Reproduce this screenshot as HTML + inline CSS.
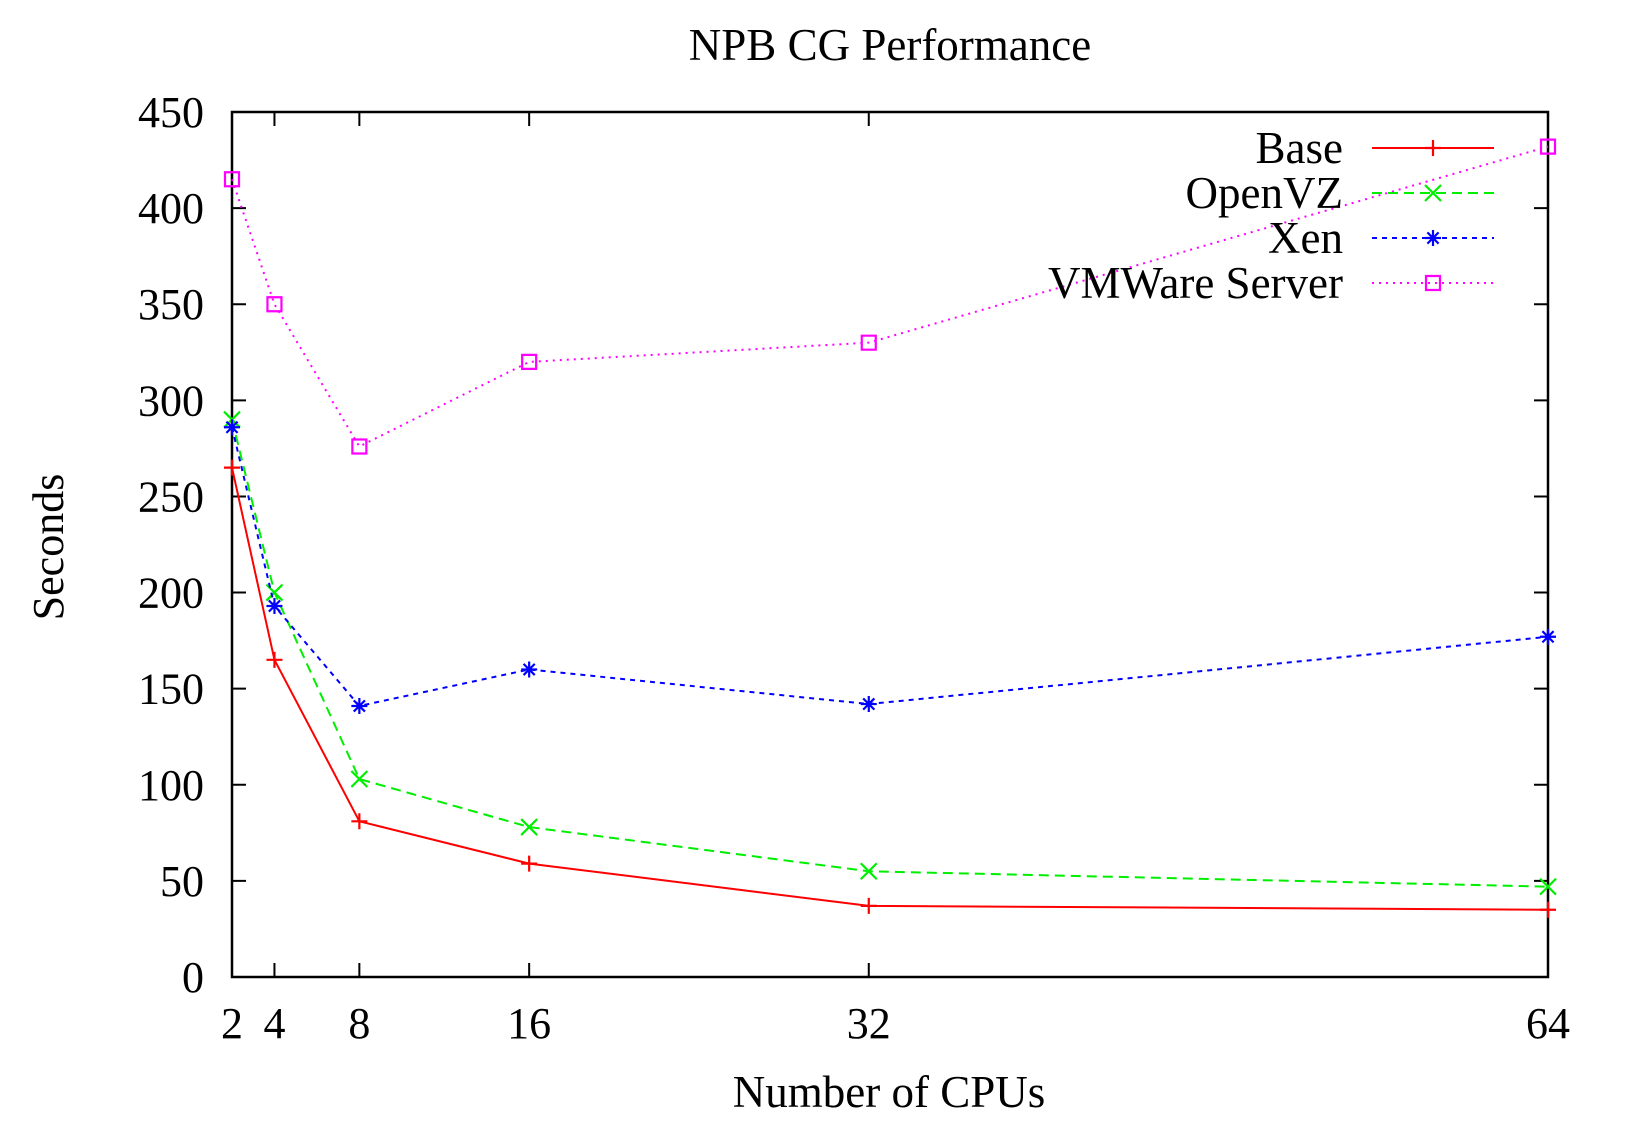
<!DOCTYPE html>
<html><head><meta charset="utf-8"><style>
html,body{margin:0;padding:0;background:#fff;width:1650px;height:1141px;overflow:hidden}
svg text{font-family:"Liberation Serif",serif;fill:#000}
</style></head><body>
<svg id="chart" width="1650" height="1141" viewBox="0 0 1650 1141" xmlns="http://www.w3.org/2000/svg">
<text x="890" y="60" font-size="45" text-anchor="middle">NPB CG Performance</text>
<text x="0" y="0" font-size="44" text-anchor="middle" transform="translate(63,547) rotate(-90)">Seconds</text>
<text x="889" y="1107" font-size="45" text-anchor="middle">Number of CPUs</text>
<g id="axes"></g>
<g id="series"></g>
<g id="legend"></g>
</svg>
<script>
const cpus = [2, 4, 8, 16, 32, 64];
const baseVals = [265, 165, 81, 59, 37, 35];
const openvzVals = [290, 200, 103, 78, 55, 47];
const xenVals = [286, 193, 141, 160, 142, 177];
const vmwareVals = [415, 350, 276, 320, 330, 432];
const yTicks = [0, 50, 100, 150, 200, 250, 300, 350, 400, 450];
const xTicks = [2, 4, 8, 16, 32, 64];
const seriesNames = ["Base", "OpenVZ", "Xen", "VMWare Server"];

const NS = "http://www.w3.org/2000/svg";
const L = 232, R = 1548, T = 112, B = 977;
const xS = v => L + (v - 2) * (R - L) / 62;
const yS = v => B - v * (B - T) / 450;
function mk(tag, attrs, parent) {
  const e = document.createElementNS(NS, tag);
  for (const k in attrs) e.setAttribute(k, attrs[k]);
  parent.appendChild(e);
  return e;
}
const axes = document.getElementById('axes');
const frame = mk('rect', {x: L, y: T, width: R - L, height: B - T, fill: 'none', stroke: '#000', 'stroke-width': 2.5}, axes);


yTicks.forEach(v => {
  const y = yS(v);
  const t = mk('path', {d: `M${L},${y}h14M${R},${y}h-14`, stroke: '#000', 'stroke-width': 2}, axes);
  
  
  const lb = mk('text', {x: 204, y: y + 15, 'font-size': 44, 'text-anchor': 'end'}, axes);
  lb.textContent = v;
  
  
});
xTicks.forEach(v => {
  const x = xS(v);
  const t = mk('path', {d: `M${x},${B}v-14M${x},${T}v14`, stroke: '#000', 'stroke-width': 2}, axes);
  
  
  const lb = mk('text', {x: x, y: 1038, 'font-size': 44, 'text-anchor': 'middle'}, axes);
  lb.textContent = v;
  
  
});

const styles = [
  {vals: baseVals, color: '#ff0000', dash: '', marker: 'plus'},
  {vals: openvzVals, color: '#00ee00', dash: '10,6', marker: 'cross'},
  {vals: xenVals, color: '#0000ff', dash: '5,5', marker: 'star'},
  {vals: vmwareVals, color: '#ff00ff', dash: '2,5', marker: 'square'}
];
function marker(g, type, x, y, c) {
  const s = 8;
  let d;
  if (type === 'plus') d = `M${x-s},${y}h${2*s}M${x},${y-s}v${2*s}`;
  else if (type === 'cross') d = `M${x-s},${y-s}l${2*s},${2*s}M${x-s},${y+s}l${2*s},${-2*s}`;
  else if (type === 'star') d = `M${x-s},${y}h${2*s}M${x},${y-s}v${2*s}M${x-s*0.7},${y-s*0.7}l${1.4*s},${1.4*s}M${x-s*0.7},${y+s*0.7}l${1.4*s},${-1.4*s}`;
  else d = `M${x-7},${y-7}h14v14h-14z`;
  const m = mk('path', {d: d, stroke: c, 'stroke-width': 2.2, fill: 'none'}, g);
  
  
}
const sg = document.getElementById('series');
const lg = document.getElementById('legend');
styles.forEach((s, i) => {
  const g = mk('g', {}, sg);
  
  
  const pts = cpus.map((c, j) => xS(c) + ',' + yS(s.vals[j])).join(' ');
  const pl = mk('polyline', {points: pts, fill: 'none', stroke: s.color, 'stroke-width': 2, 'stroke-dasharray': s.dash}, g);
  
  
  cpus.forEach((c, j) => marker(g, s.marker, xS(c), yS(s.vals[j]), s.color));
  const ly = 148 + i * 45;
  const le = mk('g', {}, lg);
  
  
  const lt = mk('text', {x: 1343, y: ly + 15, 'font-size': 45, 'text-anchor': 'end'}, le);
  lt.textContent = seriesNames[i];
  mk('line', {x1: 1372, y1: ly, x2: 1494, y2: ly, stroke: s.color, 'stroke-width': 2, 'stroke-dasharray': s.dash}, le);
  marker(le, s.marker, 1433, ly, s.color);
});
</script>
</body></html>
